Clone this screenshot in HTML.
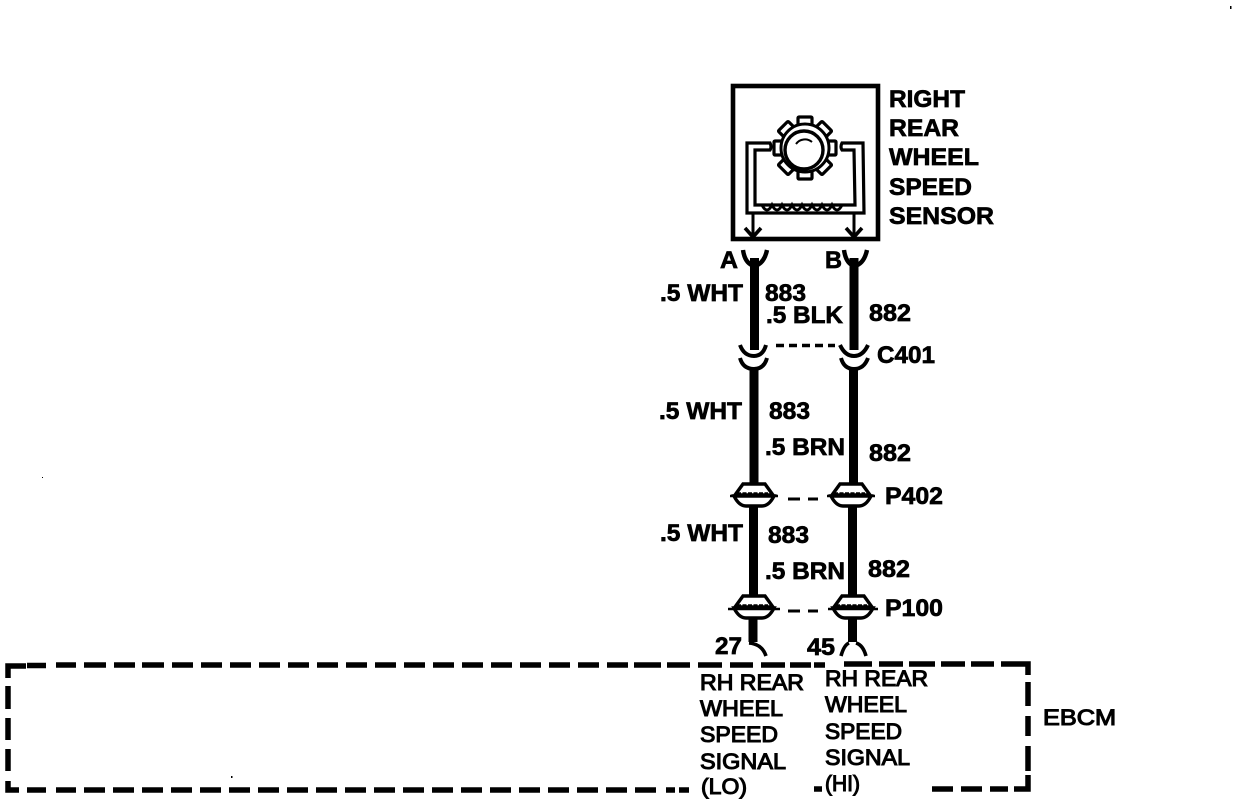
<!DOCTYPE html>
<html>
<head>
<meta charset="utf-8">
<style>
html,body{margin:0;padding:0;background:#fff}
svg{display:block}
text{font-family:"Liberation Sans",sans-serif;fill:#000}
.b{font-weight:bold;font-size:24px;stroke:#000;stroke-width:.7px}
.r{font-size:22.5px;stroke:#000;stroke-width:1.1px}
</style>
</head>
<body>
<svg width="1248" height="806" viewBox="0 0 1248 806" xmlns="http://www.w3.org/2000/svg">
<rect width="1248" height="806" fill="#fff"/>
<g fill="none" stroke="#000">
  <!-- sensor box -->
  <rect x="733" y="86" width="145" height="153" stroke-width="4.6"/>
  <!-- coil -->
  <path d="M770 150H755V205H855L854 150H842Q840 147 842 143H863L864 213H747V143H770Q772 147 770 150Z" stroke-width="3.2"/>
  <path d="M762 205q5 10 10 0q5 10 10 0q5 10 10 0q5 10 10 0q5 10 10 0q5 10 10 0q5 10 10 0q5 10 10 0" stroke-width="3"/>
  <!-- gear -->
  <g stroke-width="3.2" fill="#fff">
    <rect x="798" y="117" width="14" height="9" rx="1" transform="rotate(0 805 148)"/>
    <rect x="798" y="117" width="14" height="9" rx="1" transform="rotate(45 805 148)"/>
    <rect x="798" y="117" width="14" height="9" rx="1" transform="rotate(90 805 148)"/>
    <rect x="798" y="117" width="14" height="9" rx="1" transform="rotate(135 805 148)"/>
    <rect x="798" y="117" width="14" height="9" rx="1" transform="rotate(180 805 148)"/>
    <rect x="798" y="117" width="14" height="9" rx="1" transform="rotate(225 805 148)"/>
    <rect x="798" y="117" width="14" height="9" rx="1" transform="rotate(270 805 148)"/>
    <rect x="798" y="117" width="14" height="9" rx="1" transform="rotate(315 805 148)"/>
  </g>
  <circle cx="805" cy="148" r="24" stroke-width="3" fill="#fff"/>
  <circle cx="804" cy="150" r="19" stroke-width="3.4" fill="#fff"/>
  <path d="M796 144a11 11 0 0 1 16-2" stroke-width="2"/>
  <!-- sensor arrows -->
  <path d="M753 213V238M854 213V238" stroke-width="3"/>
  <path d="M745 228L753 237L761 228M846 228L854 237L862 228" stroke-width="3.6"/>

  <!-- wires -->
  <path d="M754.5 258V350M854 258V350M754 367V486M853.5 367V486M753.500 505V598M852.500 505V598M753 616V642M852.500 616V642" stroke-width="9"/>

  <!-- top cups -->
  <path d="M743 250Q745 264 754.500 266Q764 264 767 250M844 250Q846 264 854.500 266Q864 264 867 250" stroke-width="4.4"/>
  <!-- C401 -->
  <path d="M740 345Q744 356 754 356Q763 356 766 345M840 345Q845 356 854 356Q863 356 868 345" stroke-width="4"/>
  <path d="M740 358Q743 369 754 369Q764 369 767 358M841 358Q844 369 854 369Q864 369 868 358" stroke-width="4"/>
  <path d="M776 345.500H835" stroke-width="3.4" stroke-dasharray="8 5"/>

  <!-- bottom forks -->
  <path d="M749 643Q762 644 766 656M849 643Q844 645 841 656M856 643Q863 645 866 656" stroke-width="3.600"/>

  <!-- plug dashes -->
  <path d="M788 499H800M808 499H818M788 611H800M808 611H818" stroke-width="3"/>

  <!-- EBCM dashed box -->
  <g stroke-width="5.500">
    <path d="M26 666H8V678"/>
    <path d="M27 665.500H46M56 665H76M84 665H106M114 665H135M142 665H164M172 665H193M201 665H222M230 665H251M259 665H280M288 665H309M317 665H338M346 665H367M375 665H396M404 665H425M433 665H454M462 665H483M491 665H512M520 665H541M549 665H570M578 665H599M607 665H628M634 665H661M667 665H690M698 665H722M730 665H753M761 665H785M790 665H811M814 665H825M844 664H872M879 664H903M909 664H935M941 664H965M971 664H994"/>
    <path d="M1001 664H1028V675"/>
    <path d="M1028 682V706M1028 716V736M1028 746V771"/>
    <path d="M1028 775V789H1014M1008 789H990M982 789H961M953 789H932"/>
    <path d="M8 686V709M8 718V740M8 749V771"/>
    <path d="M8 781V790H19M27 790H46M56 790H76M84 790H105M113 790H134M142 790H163M171 790H192M200 790H221M229 790H250M258 790H279M287 790H308M316 790H337M345 790H366M374 790H395M403 790H424M432 790H453M461 790H482M490 790H511M519 790H540M548 790H569M577 790H598M606 790H627M635 790H656M666 790H675M679 790H689"/>
    <path d="M814 789H822"/>
  </g>
</g>

<!-- plugs -->
<g fill="#fff" stroke="#000">
  <g transform="translate(754 495)">
    <path d="M-19 0L-11 -11H11L19 0Z" stroke-width="3.4"/>
    <path d="M-20 1Q-15 11 -8 11H8Q15 11 20 1Z" stroke-width="3.4"/>
    <path d="M-24 1H24" stroke-width="2.6"/>
    <path d="M-17 -1H14" stroke-width="3.4" stroke-dasharray="4 1.500"/>
  </g>
  <g transform="translate(851 495)">
    <path d="M-19 0L-11 -11H11L19 0Z" stroke-width="3.4"/>
    <path d="M-20 1Q-15 11 -8 11H8Q15 11 20 1Z" stroke-width="3.4"/>
    <path d="M-24 1H24" stroke-width="2.6"/>
    <path d="M-17 -1H14" stroke-width="3.4" stroke-dasharray="4 1.500"/>
  </g>
  <g transform="translate(754 607)">
    <path d="M-19 0L-11 -11H11L19 0Z" stroke-width="3.4"/>
    <path d="M-20 1Q-15 11 -8 11H8Q15 11 20 1Z" stroke-width="3.4"/>
    <path d="M-26 2H26" stroke-width="2.6"/>
    <path d="M-17 -1H14" stroke-width="3.4" stroke-dasharray="4 1.500"/>
  </g>
  <g transform="translate(853 607)">
    <path d="M-19 0L-11 -11H11L19 0Z" stroke-width="3.4"/>
    <path d="M-20 1Q-15 11 -8 11H8Q15 11 20 1Z" stroke-width="3.4"/>
    <path d="M-25 2H25" stroke-width="2.6"/>
    <path d="M-17 -1H14" stroke-width="3.4" stroke-dasharray="4 1.500"/>
  </g>
</g>

<!-- specks -->
<rect x="1230" y="6" width="1.500" height="3" fill="#000"/>
<rect x="42" y="477" width="1" height="1" fill="#000"/>
<rect x="231" y="776" width="1.500" height="2" fill="#000"/>

<!-- labels -->
<text class="b" x="889" y="107" textLength="76" lengthAdjust="spacingAndGlyphs">RIGHT</text>
<text class="b" x="889" y="136" textLength="70" lengthAdjust="spacingAndGlyphs">REAR</text>
<text class="b" x="889" y="165" textLength="90" lengthAdjust="spacingAndGlyphs">WHEEL</text>
<text class="b" x="889" y="195" textLength="83" lengthAdjust="spacingAndGlyphs">SPEED</text>
<text class="b" x="889" y="224" textLength="105" lengthAdjust="spacingAndGlyphs">SENSOR</text>
<text class="b" x="720" y="268" textLength="18" lengthAdjust="spacingAndGlyphs">A</text>
<text class="b" x="825" y="268" textLength="17" lengthAdjust="spacingAndGlyphs">B</text>
<text class="b" x="660" y="301" textLength="83" lengthAdjust="spacingAndGlyphs">.5 WHT</text>
<text class="b" x="765" y="301" textLength="41" lengthAdjust="spacingAndGlyphs">883</text>
<text class="b" x="766" y="323" textLength="77" lengthAdjust="spacingAndGlyphs">.5 BLK</text>
<text class="b" x="869" y="321" textLength="42" lengthAdjust="spacingAndGlyphs">882</text>
<text class="b" x="877" y="363" textLength="58" lengthAdjust="spacingAndGlyphs">C401</text>
<text class="b" x="659" y="419" textLength="83" lengthAdjust="spacingAndGlyphs">.5 WHT</text>
<text class="b" x="769" y="419" textLength="41" lengthAdjust="spacingAndGlyphs">883</text>
<text class="b" x="765" y="455" textLength="80" lengthAdjust="spacingAndGlyphs">.5 BRN</text>
<text class="b" x="869" y="461" textLength="42" lengthAdjust="spacingAndGlyphs">882</text>
<text class="b" x="885" y="504" textLength="58" lengthAdjust="spacingAndGlyphs">P402</text>
<text class="b" x="660" y="541" textLength="83" lengthAdjust="spacingAndGlyphs">.5 WHT</text>
<text class="b" x="768" y="543" textLength="41" lengthAdjust="spacingAndGlyphs">883</text>
<text class="b" x="765" y="579" textLength="80" lengthAdjust="spacingAndGlyphs">.5 BRN</text>
<text class="b" x="868" y="577" textLength="42" lengthAdjust="spacingAndGlyphs">882</text>
<text class="b" x="885" y="616" textLength="58" lengthAdjust="spacingAndGlyphs">P100</text>
<text class="b" x="715" y="654" textLength="27" lengthAdjust="spacingAndGlyphs">27</text>
<text class="b" x="807" y="655" textLength="28" lengthAdjust="spacingAndGlyphs">45</text>
<text class="r" x="700" y="690" textLength="104" lengthAdjust="spacingAndGlyphs">RH REAR</text>
<text class="r" x="700" y="716" textLength="83" lengthAdjust="spacingAndGlyphs">WHEEL</text>
<text class="r" x="700" y="742" textLength="78" lengthAdjust="spacingAndGlyphs">SPEED</text>
<text class="r" x="700" y="769" textLength="86" lengthAdjust="spacingAndGlyphs">SIGNAL</text>
<text class="r" x="701" y="794" textLength="46" lengthAdjust="spacingAndGlyphs">(LO)</text>
<text class="r" x="825" y="686" textLength="103" lengthAdjust="spacingAndGlyphs">RH REAR</text>
<text class="r" x="825" y="712" textLength="82" lengthAdjust="spacingAndGlyphs">WHEEL</text>
<text class="r" x="825" y="739" textLength="77" lengthAdjust="spacingAndGlyphs">SPEED</text>
<text class="r" x="825" y="765" textLength="85" lengthAdjust="spacingAndGlyphs">SIGNAL</text>
<text class="r" x="825" y="791" textLength="35" lengthAdjust="spacingAndGlyphs">(HI)</text>
<text class="r" x="1043" y="725" textLength="73" lengthAdjust="spacingAndGlyphs">EBCM</text>
</svg>
</body>
</html>
